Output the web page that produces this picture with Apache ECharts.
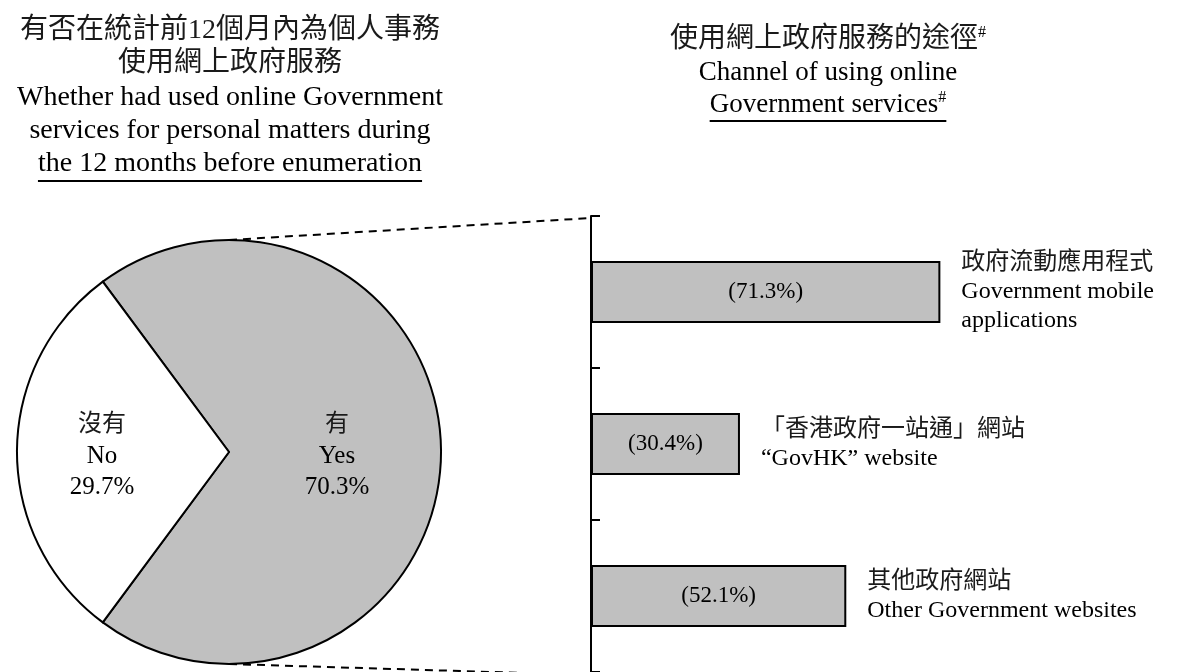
<!DOCTYPE html>
<html>
<head>
<meta charset="utf-8">
<style>
  html, body { margin: 0; padding: 0; background: #fff; }
  #chart { width: 1182px; height: 672px; }
</style>
<script src="https://cdn.jsdelivr.net/npm/echarts@6/dist/echarts.min.js"></script>
</head>
<body>
<div id="chart"></div>
<script>
// Whether online Government services were used (pie)
const usageNamesZh = ['有', '沒有'];
const usageNamesEn = ['Yes', 'No'];
const usageShares = [70.3, 29.7];

// Channel of using online Government services (bars)
const channelNamesZh = ['政府流動應用程式', '「香港政府一站通」網站', '其他政府網站'];
const channelNamesEn = [['Government mobile', 'applications'], ['“GovHK” website'], ['Other Government websites']];
const channelShares = [71.3, 30.4, 52.1];

// Title lines
const leftTitleZh = ['有否在統計前12個月內為個人事務', '使用網上政府服務'];
const leftTitleEn = ['Whether had used online Government', 'services for personal matters during', 'the 12 months before enumeration'];
const rightTitleZh = '使用網上政府服務的途徑';
const rightTitleEn = ['Channel of using online', 'Government services'];

// Layout
const SERIF = '"Liberation Serif", "Times New Roman", "Noto Sans CJK TC", serif';
const PIE_CX = 229, PIE_CY = 452, PIE_R = 212;
const GRID_LEFT = 591, GRID_TOP = 216, GRID_H = 459, GRID_W = 490;
const LEFT_CX = 230, RIGHT_CX = 828;

const measureCtx = document.createElement('canvas').getContext('2d');
function textWidth(str, font) { measureCtx.font = font; return measureCtx.measureText(str).width; }

const zhFont = '28px ' + SERIF;
const enFont = '28px ' + SERIF;
const enFontR = '27px ' + SERIF;
const ZH_FILL = '#1a1a1a';

function titleText(str, x, y, font, fill) {
  return { type: 'text', x: x, y: y, silent: true,
    style: { text: str, font: font, fill: fill || '#000', align: 'center', verticalAlign: 'middle',
             textAlign: 'center', textVerticalAlign: 'middle' } };
}

const graphics = [];
leftTitleZh.forEach((t, i) => graphics.push(titleText(t, LEFT_CX, 31 + i * 33, zhFont, ZH_FILL)));
leftTitleEn.forEach((t, i) => graphics.push(titleText(t, LEFT_CX, 98 + i * 33, enFont)));
const lastW = textWidth(leftTitleEn[2], enFont);
graphics.push({ type: 'line', silent: true,
  shape: { x1: LEFT_CX - lastW / 2, y1: 181, x2: LEFT_CX + lastW / 2, y2: 181 },
  style: { stroke: '#000', lineWidth: 2 } });

// right title with superscript marks
const supFont = '16px ' + SERIF;
function supTitle(str, y, font, fill) {
  const w = textWidth(str, font) + textWidth('#', supFont);
  return { type: 'text', x: RIGHT_CX - w / 2, y: y, silent: true,
    style: { text: '{m|' + str + '}{s|#}', fill: '#000', align: 'left', verticalAlign: 'middle',
      textAlign: 'left', textVerticalAlign: 'middle',
      rich: { m: { font: font, fill: fill || '#000', lineHeight: 30 },
              s: { font: supFont, fill: '#000', verticalAlign: 'top', lineHeight: 30 } } } };
}
graphics.push(supTitle(rightTitleZh, 40, zhFont, ZH_FILL));
graphics.push(titleText(rightTitleEn[0], RIGHT_CX, 73, enFontR));
graphics.push(supTitle(rightTitleEn[1], 105, enFontR));
const govW = textWidth(rightTitleEn[1], enFontR) + textWidth('#', supFont);
graphics.push({ type: 'line', silent: true,
  shape: { x1: RIGHT_CX - govW / 2, y1: 121, x2: RIGHT_CX + govW / 2, y2: 121 },
  style: { stroke: '#000', lineWidth: 2 } });

// dashed connectors from pie to bar axis
graphics.push({ type: 'line', silent: true,
  shape: { x1: PIE_CX, y1: PIE_CY - PIE_R, x2: GRID_LEFT, y2: GRID_TOP + 2 },
  style: { stroke: '#000', lineWidth: 2, lineDash: [8, 6] } });
graphics.push({ type: 'line', silent: true,
  shape: { x1: PIE_CX, y1: PIE_CY + PIE_R, x2: GRID_LEFT, y2: GRID_TOP + GRID_H },
  style: { stroke: '#000', lineWidth: 2, lineDash: [8, 6] } });

const FAMILY = SERIF;
const pieData = usageShares.map((v, i) => ({
  value: v,
  name: usageNamesEn[i],
  itemStyle: { color: i === 0 ? '#c0c0c0' : '#ffffff' },
  label: { formatter: '{z|' + usageNamesZh[i] + '}\n{e|' + usageNamesEn[i] + '}\n{e|' + v.toFixed(1) + '%}' }
}));

const chart = echarts.init(document.getElementById('chart'), null, { renderer: 'canvas' });
chart.setOption({
  animation: false,
  backgroundColor: '#fff',
  graphic: { elements: graphics },
  grid: { left: GRID_LEFT, top: GRID_TOP, width: GRID_W, height: GRID_H, containLabel: false },
  xAxis: { type: 'value', min: 0, max: 100, show: false },
  yAxis: {
    type: 'category', inverse: true, data: channelNamesZh,
    axisLine: { show: true, lineStyle: { color: '#000', width: 2 } },
    axisTick: { show: true, inside: true, length: 9, lineStyle: { color: '#000', width: 2 } },
    axisLabel: { show: false }, splitLine: { show: false }
  },
  series: [
    {
      type: 'pie', center: [PIE_CX, PIE_CY], radius: PIE_R,
      startAngle: usageShares[0] / 100 * 180, clockwise: true,
      silent: true, emphasis: { disabled: true },
      itemStyle: { borderColor: '#000', borderWidth: 2 },
      label: {
        show: true, position: 'inside', color: '#000',
        rich: {
          z: { fontSize: 24, fontFamily: FAMILY, color: ZH_FILL, lineHeight: 31, align: 'center' },
          e: { fontSize: 25, fontFamily: FAMILY, color: '#000', lineHeight: 31, align: 'center' }
        }
      },
      labelLine: { show: false },
      labelLayout: function (p) { return p.dataIndex === 1 ? { dx: -18, dy: 4 } : { dx: -1, dy: 4 }; },
      data: pieData
    },
    {
      type: 'bar', data: channelShares, barWidth: 62, silent: true,
      itemStyle: { color: '#c0c0c0', borderColor: '#000', borderWidth: 2 },
      label: {
        show: true, position: 'inside', color: '#000', fontSize: 23, fontFamily: FAMILY,
        formatter: p => '(' + p.value.toFixed(1) + '%)'
      }
    },
    {
      type: 'bar', data: channelShares, barWidth: 62, barGap: '-100%', silent: true, z: 3,
      itemStyle: { color: 'rgba(0,0,0,0)' },
      label: {
        show: true, position: 'right', distance: 21, color: '#000', align: 'left',
        formatter: p => ['{z|' + channelNamesZh[p.dataIndex] + '}']
          .concat(channelNamesEn[p.dataIndex].map(s => '{e|' + s + '}')).join('\n'),
        rich: {
          z: { fontSize: 24, fontFamily: FAMILY, color: ZH_FILL, lineHeight: 29 },
          e: { fontSize: 24, fontFamily: FAMILY, color: '#000', lineHeight: 29 }
        }
      }
    }
  ]
});
</script>
</body>
</html>
